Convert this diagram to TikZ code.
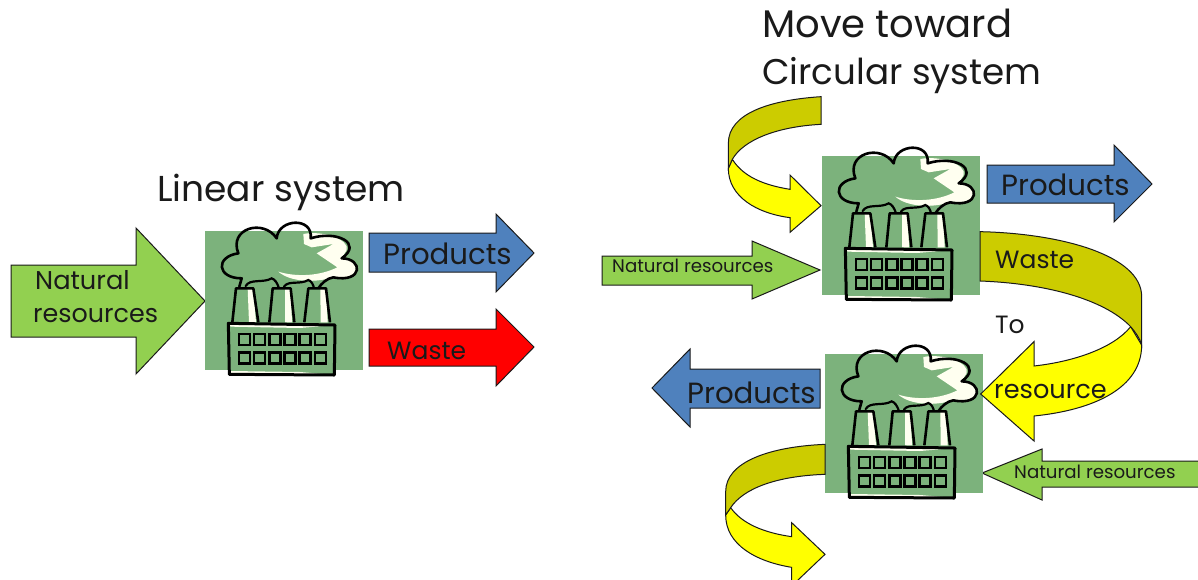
\documentclass[tikz,border=0pt]{standalone}
\usepackage{fontspec}
\setmainfont{Poppins}
\definecolor{leaf}{HTML}{92D050}
\definecolor{steel}{HTML}{4F81BD}
\definecolor{olive}{HTML}{CCCC00}
\definecolor{sun}{HTML}{FFFF00}
\definecolor{sage}{HTML}{7CB27C}
\definecolor{cream}{HTML}{FFFFF0}
\definecolor{ink}{HTML}{1A1A1A}
\tikzset{
  flat/.style={draw=ink,line width=1pt,line join=miter},
  lab/.style={anchor=base west,inner sep=0pt,text=ink},
  factory/.pic={
    \fill[sage] (15,32) rectangle (488,450);
    \fill[cream] (310,42) .. controls (370,30) and (450,60) .. (440,90) -- (425,115) .. controls (490,115) and (490,190) .. (400,172) .. controls (340,190) and (270,185) .. (235,155) .. controls (290,172) and (360,168) .. (412,142) -- (350,100) -- (400,72) -- (335,82) -- (312,72) -- cycle;
    \draw[black,line width=2.6pt,line join=round,line cap=round]
      (118,200) -- (125,175) .. controls (50,175) and (45,110) .. (115,100)
      .. controls (85,25) and (190,-5) .. (230,55)
      .. controls (235,-5) and (340,-10) .. (332,55)
      .. controls (410,30) and (490,70) .. (425,115)
      .. controls (490,115) and (490,190) .. (400,172)
      .. controls (380,175) and (365,190) .. (355,205);
    \draw[black,line width=2.2pt,line cap=round]
      (137,198) .. controls (150,175) and (190,190) .. (215,175) .. controls (225,178) and (232,190) .. (236,202)
      (252,200) .. controls (265,180) and (300,195) .. (325,180) .. controls (335,183) and (340,195) .. (342,205);
    \foreach \a/\b/\c/\d in {108/160/175/97,218/272/283/208,325/378/390/313}{
      \fill[sage] (\a,205) -- (\b,205) -- (\c,307) -- (\d,307) -- cycle;
      \fill[cream] (\b-17,205) -- (\b,205) -- (\c-7,307) -- (\c-28,307) -- cycle;
      \draw[black,line width=2.6pt,line join=round] (\d,307) -- (\a,205) -- (\b,205) -- (\c,307);
    }
    \fill[sage] (85,310) -- (405,315) -- (403,465) -- (88,463) -- cycle;
    \fill[cream] (85,310) -- (405,315) -- (300,324) -- (92,320) -- cycle;
    \fill[cream] (92,453) -- (300,456) -- (403,465) -- (88,463) -- cycle;
    \draw[black,line width=3pt,line join=round] (85,310) -- (405,315) -- (403,465) -- (88,463) -- cycle;
    \foreach \i in {0,...,5}{
      \draw[black,line width=2.6pt] (117+45.5*\i,342) rectangle +(33,33);
      \draw[black,line width=2.6pt] (117+45.5*\i,397) rectangle +(33,33);
    }
  }
}
\begin{document}
\begin{tikzpicture}[x=1pt,y=-1pt]
\useasboundingbox (0,0) rectangle (1198,579);
\clip (0,0) rectangle (1198,579);
% straight arrows
\draw[flat,fill=leaf] (11,265) -- (136,265) -- (136,228) -- (205,301) -- (136,374) -- (136,337) -- (11,337) -- cycle;
\draw[flat,fill=steel] (369,233) -- (496,233) -- (496,214) -- (534,253) -- (496,292) -- (496,272) -- (369,272) -- cycle;
\draw[flat,fill=red] (369,329) -- (496,329) -- (496,309) -- (534,347) -- (496,386) -- (496,366) -- (369,366) -- cycle;
\draw[flat,fill=steel] (987,165) -- (1114,165) -- (1114,145) -- (1152,184) -- (1114,222) -- (1114,203) -- (987,203) -- cycle;
\draw[flat,fill=leaf] (602,256) -- (752,256) -- (752,241) -- (820,270) -- (752,299) -- (752,285) -- (602,285) -- cycle;
\draw[flat,fill=steel] (652,388) -- (690,349) -- (690,369) -- (820,369) -- (820,408) -- (690,408) -- (690,427) -- cycle;
\draw[flat,fill=leaf] (982,473) -- (1042,449) -- (1042,461) -- (1199,461) -- (1199,487) -- (1042,487) -- (1042,500) -- cycle;
% factories
\pic at (200,220) [scale=1/3] {factory};
\pic at (817,145) [scale=1/3] {factory};
\pic at (820,343) [scale=1/3] {factory};
% curved arrows
\begin{scope}[shift={(720,90)},scale=1/3]
\draw[flat,fill=sun] (37,208) .. controls (70,260) and (130,285) .. (210,298) -- (210,255) -- (303,347) -- (210,427) -- (210,383) .. controls (110,370) and (25,320) .. (25,235) -- cycle;
\draw[flat,fill=olive] (303,20) .. controls (150,30) and (25,70) .. (25,160) -- (25,235) -- (37,208) .. controls (70,150) and (170,110) .. (303,103) -- cycle;
\end{scope}
\begin{scope}[shift={(720,440)},scale=1/3]
\draw[flat,fill=sun] (32,203) .. controls (65,250) and (130,278) .. (215,290) -- (215,248) -- (315,343) -- (215,438) -- (215,382) .. controls (110,365) and (17,315) .. (17,225) -- cycle;
\draw[flat,fill=olive] (315,13) .. controls (150,20) and (17,65) .. (17,155) -- (17,225) -- (32,203) .. controls (70,145) and (170,108) .. (315,103) -- cycle;
\end{scope}
\begin{scope}[shift={(970,225)},scale=1/3]
\draw[flat,fill=sun] (482,305) .. controls (430,370) and (310,410) .. (192,423) -- (192,350) -- (32,507) -- (192,648) -- (192,573) .. controls (370,555) and (515,490) .. (515,360) -- cycle;
\draw[flat,fill=olive] (30,20) .. controls (270,25) and (515,90) .. (515,215) -- (515,360) .. controls (510,340) and (495,320) .. (482,305) .. controls (400,220) and (220,175) .. (30,168) -- cycle;
\end{scope}
% texts
\node[lab,font=\fontsize{36}{36}\selectfont] (t1) at (157,201) {Linear system};
\node[lab,font=\fontsize{38.5}{38.5}\selectfont] (t2) at (762,37) {Move toward};
\node[lab,font=\fontsize{35.7}{35.7}\selectfont] (t3) at (762,84) {Circular system};
\node[lab,font=\fontsize{25.7}{25.7}\selectfont] (n1) at (35,289) {Natural};
\node[lab,font=\fontsize{25.4}{25.4}\selectfont] (n2) at (33,322) {resources};
\node[lab,font=\fontsize{29.2}{29.2}\selectfont] (p1) at (383,264) {Products};
\node[lab,font=\fontsize{25}{25}\selectfont] (w1) at (387,359) {Waste};
\node[lab,font=\fontsize{29.2}{29.2}\selectfont] (p2) at (1001,195) {Products};
\node[lab,font=\fontsize{18.2}{18.2}\selectfont] (n3) at (612,272) {Natural resources};
\node[lab,font=\fontsize{25}{25}\selectfont] (w2) at (995,268) {Waste};
\node[lab,font=\fontsize{25}{25}\selectfont] (to) at (995,333) {To};
\node[lab,font=\fontsize{25.6}{25.6}\selectfont] (r) at (994,398) {resource};
\node[lab,font=\fontsize{29.2}{29.2}\selectfont] (p3) at (687,403) {Products};
\node[lab,font=\fontsize{18.2}{18.2}\selectfont] (n4) at (1014,478) {Natural resources};
\end{tikzpicture}
\end{document}
